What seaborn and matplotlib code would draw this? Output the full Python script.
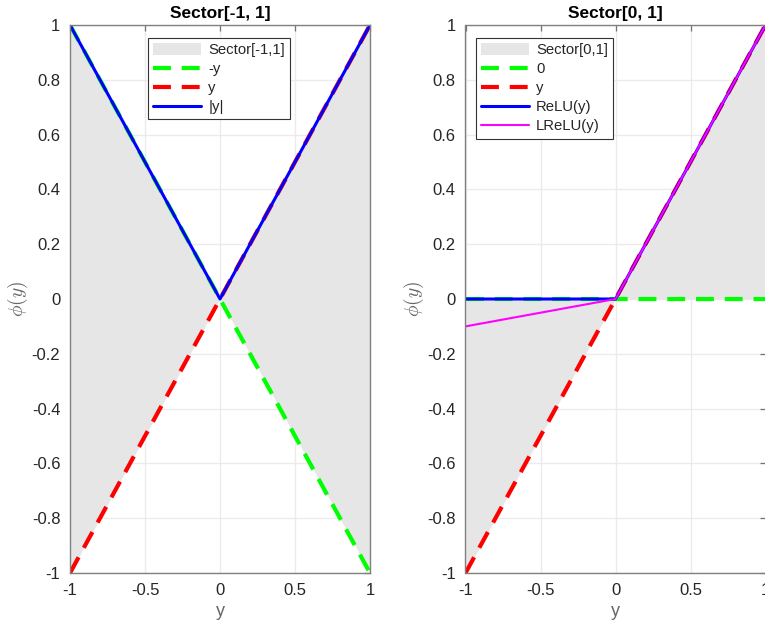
import numpy as np
import matplotlib
matplotlib.use("Agg")
import matplotlib.pyplot as plt
import seaborn as sns
from matplotlib.patches import Patch

# sample points of the input y
y = np.array([-1.0, 0.0, 1.0])

# sector [-1, 1] curves
neg_y = np.array([1.0, 0.0, -1.0])
pos_y = np.array([-1.0, 0.0, 1.0])
abs_y = np.array([1.0, 0.0, 1.0])

# sector [0, 1] curves
zero_y = np.array([0.0, 0.0, 0.0])
relu_y = np.array([0.0, 0.0, 1.0])
lrelu_y = np.array([-0.1, 0.0, 1.0])

x_ticks = [-1, -0.5, 0, 0.5, 1]
x_tick_labels = ["-1", "-0.5", "0", "0.5", "1"]
y_ticks = [-1, -0.8, -0.6, -0.4, -0.2, 0, 0.2, 0.4, 0.6, 0.8, 1]
y_tick_labels = ["-1", "-0.8", "-0.6", "-0.4", "-0.2", "0", "0.2", "0.4", "0.6", "0.8", "1"]

sns.set_style("white")
plt.rcParams["font.family"] = ["Liberation Sans", "DejaVu Sans"]
plt.rcParams["axes.unicode_minus"] = False
plt.rcParams["mathtext.fontset"] = "cm"

fig = plt.figure(figsize=(7.65, 6.26), dpi=100)
ax1 = fig.add_axes([70 / 765, 1 - 573 / 626, 300 / 765, 548 / 626])
ax2 = fig.add_axes([465.5 / 765, 1 - 573 / 626, 300 / 765, 548 / 626])

FILL = (0.9, 0.9, 0.9)
GREEN = (0.0, 1.0, 0.0)
RED = (1.0, 0.0, 0.0)
BLUE = (0.0, 0.0, 1.0)
MAGENTA = (1.0, 0.0, 1.0)
DASH = (0, (4.3, 2.6))
TXT = (0.15, 0.15, 0.15)
LBL = (0.4, 0.4, 0.4)
GRID = (0.92, 0.92, 0.92)


def draw_grid(ax):
    # grid sits under the shaded sector, ticks stay on top
    for t in x_ticks:
        ax.axvline(t, color=GRID, lw=1.0, zorder=0.5)
    for t in y_ticks:
        ax.axhline(t, color=GRID, lw=1.0, zorder=0.5)


def style_axes(ax, title):
    ax.set_xlim(-1, 1)
    ax.set_ylim(-1, 1)
    ax.set_xticks(x_ticks)
    ax.set_xticklabels(x_tick_labels)
    ax.set_yticks(y_ticks)
    ax.set_yticklabels(y_tick_labels)
    ax.grid(False)
    for sp in ax.spines.values():
        sp.set_color((0.5, 0.5, 0.5))
        sp.set_linewidth(1.0)
        sp.set_zorder(10)
    ax.tick_params(direction="in", length=4, width=0.9, color=(0.45, 0.45, 0.45),
                   top=True, right=True, labelsize=12, labelcolor=TXT, pad=7)
    ax.set_title(title, fontsize=12.5, fontweight="bold", color="black", pad=5)
    ax.set_xlabel("y", fontsize=13, color=LBL, labelpad=4)
    ax.set_ylabel(r"$\phi(y)$", fontsize=14, color=LBL, labelpad=1)


# ---- left panel: Sector[-1, 1]
draw_grid(ax1)
ax1.fill_between(y, neg_y, pos_y, color=FILL, lw=0, zorder=1)
sns.lineplot(x=y, y=neg_y, ax=ax1, color=GREEN, lw=3.0, linestyle=DASH, zorder=3)
sns.lineplot(x=y, y=pos_y, ax=ax1, color=RED, lw=3.0, linestyle=DASH, zorder=4)
sns.lineplot(x=y, y=abs_y, ax=ax1, color=BLUE, lw=2.2, zorder=5)
style_axes(ax1, "Sector[-1, 1]")
h1 = [Patch(facecolor=FILL, edgecolor="none"),
      plt.Line2D([], [], color=GREEN, lw=3.0, linestyle=DASH),
      plt.Line2D([], [], color=RED, lw=3.0, linestyle=DASH),
      plt.Line2D([], [], color=BLUE, lw=2.2)]
leg1 = ax1.legend(h1, ["Sector[-1,1]", "-y", "y", "|y|"], loc="upper left",
                  bbox_to_anchor=(0.26, 0.977), borderaxespad=0, fontsize=10.7,
                  fancybox=False, framealpha=1, edgecolor=(0.2, 0.2, 0.2),
                  handlelength=3.2, handleheight=0.9, labelspacing=0.32,
                  handletextpad=0.5, borderpad=0.35)
leg1.get_frame().set_linewidth(0.8)
leg1.set_zorder(20)

# ---- right panel: Sector[0, 1]
draw_grid(ax2)
ax2.fill_between(y, zero_y, pos_y, color=FILL, lw=0, zorder=1)
sns.lineplot(x=y, y=zero_y, ax=ax2, color=GREEN, lw=3.0, linestyle=DASH, zorder=3)
sns.lineplot(x=y, y=pos_y, ax=ax2, color=RED, lw=3.0, linestyle=DASH, zorder=4)
sns.lineplot(x=y, y=relu_y, ax=ax2, color=BLUE, lw=2.2, zorder=5)
sns.lineplot(x=y, y=lrelu_y, ax=ax2, color=MAGENTA, lw=1.5, zorder=6)
style_axes(ax2, "Sector[0, 1]")
h2 = [Patch(facecolor=FILL, edgecolor="none"),
      plt.Line2D([], [], color=GREEN, lw=3.0, linestyle=DASH),
      plt.Line2D([], [], color=RED, lw=3.0, linestyle=DASH),
      plt.Line2D([], [], color=BLUE, lw=2.2),
      plt.Line2D([], [], color=MAGENTA, lw=1.5)]
leg2 = ax2.legend(h2, ["Sector[0,1]", "0", "y", "ReLU(y)", "LReLU(y)"], loc="upper left",
                  bbox_to_anchor=(0.035, 0.977), borderaxespad=0, fontsize=10.7,
                  fancybox=False, framealpha=1, edgecolor=(0.2, 0.2, 0.2),
                  handlelength=3.2, handleheight=0.9, labelspacing=0.32,
                  handletextpad=0.5, borderpad=0.35)
leg2.get_frame().set_linewidth(0.8)
leg2.set_zorder(20)

fig.savefig("out.png", dpi=100, facecolor="white")
